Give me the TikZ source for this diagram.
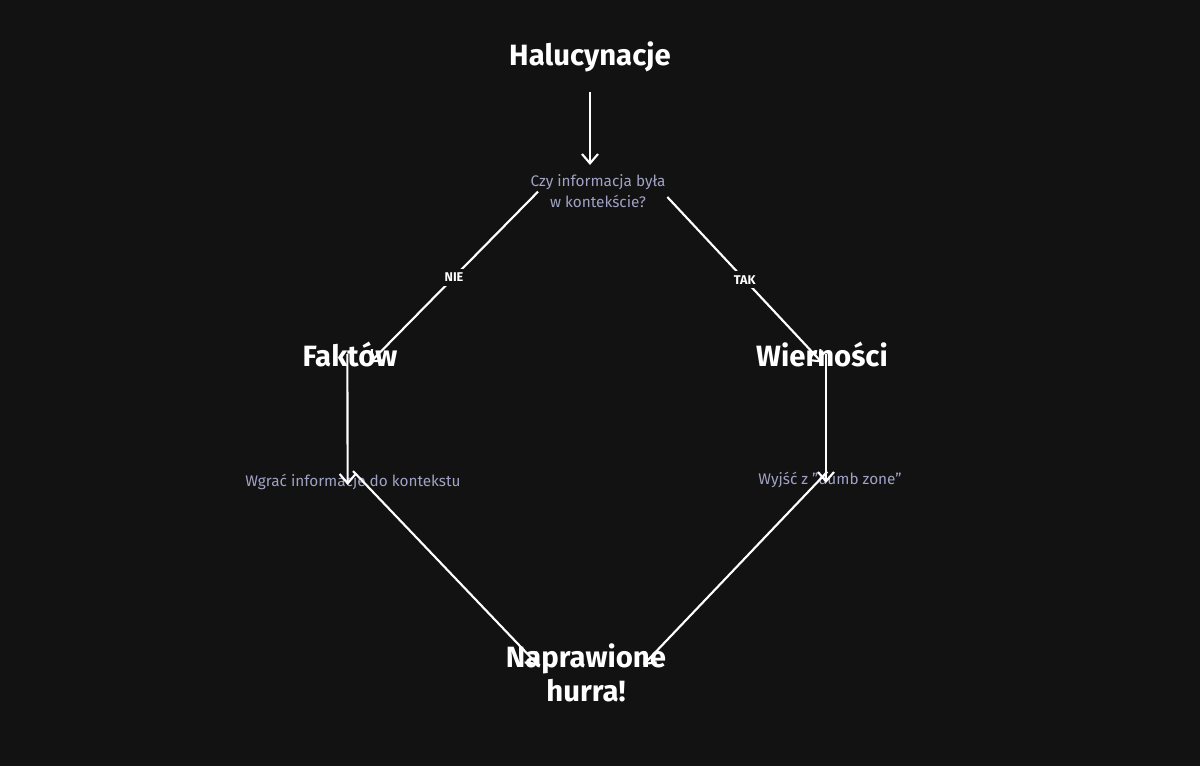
\documentclass[tikz,border=0pt]{standalone}
\usepackage{fontspec}
\setmainfont{Fira Sans}
\usetikzlibrary{arrows.meta}
\definecolor{bgdark}{RGB}{18,18,18}
\definecolor{qtext}{RGB}{160,162,196}
\tikzset{
  head/.style={text=white, font=\fontsize{22}{26}\selectfont\bfseries, align=center, inner sep=0.75pt},
  hint/.style={text=qtext, font=\fontsize{11.5}{16}\selectfont, align=center, inner sep=0.75pt},
  flow/.style={draw=white, line width=1.6pt, -{Straight Barb[length=7pt,width=12pt]}},
  tag/.style={text=white, fill=bgdark, font=\fontsize{9.5}{11}\selectfont\bfseries, inner sep=3pt}
}
\begin{document}
\begin{tikzpicture}[x=0.75pt,y=0.75pt,yscale=-1,xscale=1]
\fill[bgdark] (0,0) rectangle (1200,766);

% Text Nodes
\node[head] (hal) at (590,57) {Halucynacje};
\node[hint] (czy) at (598,191) {Czy informacja była\\ w kontekście?};
\node[head] (fak) at (350,355) {Faktów};
\node[head] (wie) at (822,355) {Wierności};
\node[hint] (wgr) at (353,482) {Wgrać informacje do kontekstu};
\node[hint] (wyj) at (830,480) {Wyjść z "dumb zone"};
\node[head] (nap) at (586,673) {Naprawione\\hurra!};

% Arrows
\draw[flow, shorten <=14pt, shorten >=6pt] (hal.south) -- (hal.south |- czy.north);
\draw[flow] ([xshift=-45pt,yshift=-13pt]czy.south) -- node[tag, pos=0.5] {NIE} ([xshift=15pt,yshift=16pt]fak.north);
\draw[flow] ([xshift=52pt,yshift=-9pt]czy.south) -- node[tag, pos=0.5] {TAK} ([yshift=16pt]wie.north);
\draw[flow] ([xshift=-2pt,yshift=-11pt]fak.south) -- ([xshift=-4pt,yshift=9pt]wgr.north);
\draw[flow] ([xshift=3pt,yshift=-11pt]wie.south) -- ([xshift=-3pt,yshift=9pt]wyj.north);
\draw[flow] ([yshift=-15pt]wgr.south) -- ([xshift=-36pt,yshift=17pt]nap.north);
\draw[flow] ([xshift=-2pt,yshift=-13pt]wyj.south) -- ([xshift=43pt,yshift=17pt]nap.north);
\end{tikzpicture}
\end{document}
